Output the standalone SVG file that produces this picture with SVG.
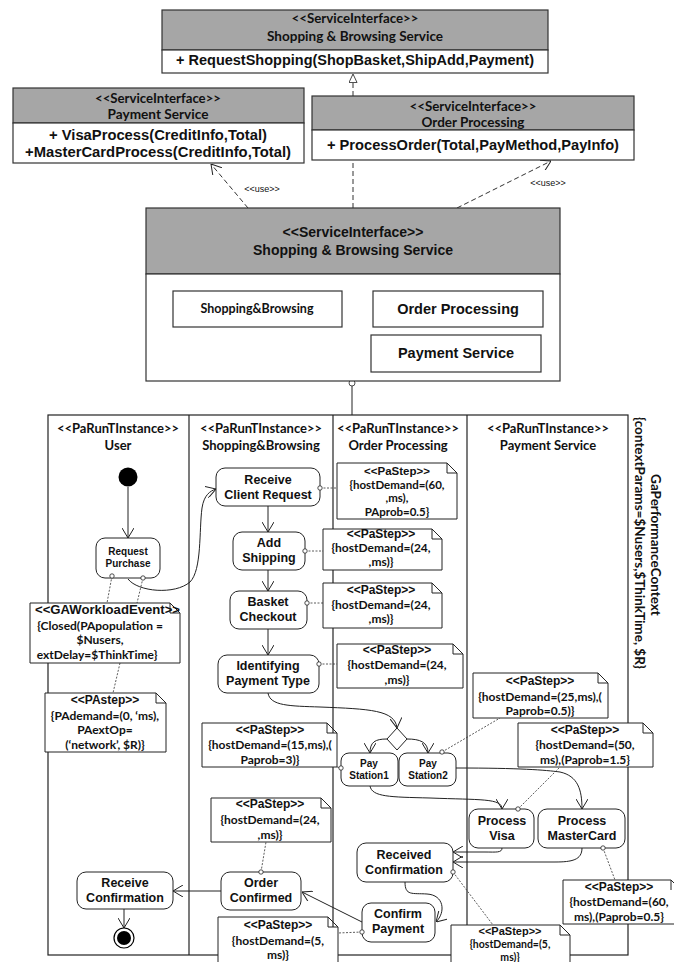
<svg xmlns="http://www.w3.org/2000/svg" width="674" height="962" viewBox="0 0 674 962">
<defs>
<style>
text{fill:#111}
.a{font-family:"Liberation Sans",Arial,sans-serif;font-weight:bold}
.c{font-family:Lato,"Open Sans",sans-serif;font-weight:bold}
.r{font-family:"Liberation Sans",Arial,sans-serif}
.m{text-anchor:middle}
.hdr{fill:#a6a6a6;stroke:#333;stroke-width:1.2}
.box{fill:#fff;stroke:#333;stroke-width:1.2}
.act{fill:#fff;stroke:#222;stroke-width:1}
.note{fill:#fff;stroke:#222;stroke-width:1}
.lane{fill:none;stroke:#222;stroke-width:1.2}
.flow{fill:none;stroke:#222;stroke-width:1;marker-end:url(#open)}
.dep{fill:none;stroke:#333;stroke-width:1;stroke-dasharray:5 3}
.dot{fill:none;stroke:#333;stroke-width:0.8;stroke-dasharray:2 1.5}
.pin{fill:#fff;stroke:#222;stroke-width:0.8}
</style>
<marker id="open" viewBox="0 0 10 12" refX="10" refY="6" markerWidth="10" markerHeight="12" markerUnits="userSpaceOnUse" orient="auto">
<path d="M0,0 L10,6 L0,12" fill="none" stroke="#222" stroke-width="1"/>
</marker>
<marker id="tri" viewBox="0 0 10 10" refX="10" refY="5" markerWidth="9" markerHeight="9" markerUnits="userSpaceOnUse" orient="auto">
<path d="M0.5,0.5 L10,5 L0.5,9.5 Z" fill="#fff" stroke="#333" stroke-width="1"/>
</marker>
</defs>
<rect width="674" height="962" fill="#fff"/>

<!-- swimlane frame -->
<g id="lanes">
<rect class="lane" x="48" y="415" width="580" height="540"/>
<line class="lane" x1="189" y1="415" x2="189" y2="955"/>
<line class="lane" x1="333" y1="415" x2="333" y2="955"/>
<line class="lane" x1="467" y1="415" x2="467" y2="955"/>
<text class="c m" x="118" y="433" font-size="13">&lt;&lt;PaRunTInstance&gt;&gt;</text>
<text class="c m" x="118" y="450" font-size="13">User</text>
<text class="c m" x="261" y="433" font-size="13">&lt;&lt;PaRunTInstance&gt;&gt;</text>
<text class="c m" x="261" y="450" font-size="13">Shopping&amp;Browsing</text>
<text class="c m" x="398" y="433" font-size="13">&lt;&lt;PaRunTInstance&gt;&gt;</text>
<text class="c m" x="398" y="450" font-size="13">Order Processing</text>
<text class="c m" x="548" y="433" font-size="13">&lt;&lt;PaRunTInstance&gt;&gt;</text>
<text class="c m" x="548" y="450" font-size="13">Payment Service</text>
<text class="c m" transform="translate(651,545) rotate(90)" font-size="13.5">GaPerformanceContext</text>
<text class="c m" transform="translate(635,543) rotate(90)" font-size="13.5">{contextParams=$Nusers,$ThinkTime, $R}</text>
</g>

<!-- connectors -->
<g id="connectors">
<path class="dep" d="M353,208 L353,74" marker-end="url(#tri)"/>
<path class="dep" d="M248,208 L211,164" marker-end="url(#open)"/>
<path class="dep" d="M457,208 L551,161" marker-end="url(#open)"/>
<text class="r m" x="262" y="192" font-size="9">&lt;&lt;use&gt;&gt;</text>
<text class="r m" x="548" y="186" font-size="9">&lt;&lt;use&gt;&gt;</text>
<line x1="352" y1="386" x2="352" y2="415" stroke="#222" stroke-width="1"/>
<circle class="pin" cx="352" cy="383" r="3"/>

<path class="flow" d="M128,487 L128,538"/>
<path class="flow" d="M128,579 C138,592 175,595 190,582 C202,570 199,530 202,508 C204,495 210,491 216,489"/>
<path class="flow" d="M268,506 L268,532"/>
<path class="flow" d="M268,570 L268,591"/>
<path class="flow" d="M268,629 L268,655"/>
<path class="flow" d="M268,693 C270,706 290,706 320,707 C370,709 395,710 397,728"/>
<path class="flow" d="M387,739 C375,739 370,742 370,753"/>
<path class="flow" d="M407,739 C420,739 428,742 428,753"/>
<path class="flow" d="M370,786 C372,797 390,797 430,798 C480,800 502,798 502,809"/>
<path class="flow" d="M456,768 C520,768 545,770 560,772 C578,776 582,790 582,809"/>
<path class="flow" d="M502,848 C502,853 496,852 485,852 L453,852"/>
<path class="flow" d="M582,848 C582,860 572,862 555,862 L453,862"/>
<path class="flow" d="M405,882 C405,896 412,893 427,894 C444,895 446,912 436,922"/>
<path class="flow" d="M362,922 L302,892"/>
<path class="flow" d="M221,891 L173,891"/>
<path class="flow" d="M124,909 L124,928"/>

<path class="dot" d="M320,488 L337,488"/>
<path class="dot" d="M305,551 L323,551"/>
<path class="dot" d="M307,603 L323,603"/>
<path class="dot" d="M319,664 L337,664"/>
<path class="dot" d="M337,767 L341,768"/>
<path class="dot" d="M442,752 L500,718"/>
<path class="dot" d="M518,809 L560,767"/>
<path class="dot" d="M603,848 L615,880"/>
<path class="dot" d="M453,872 L493,925"/>
<path class="dot" d="M261,872 L266,842"/>
<path class="dot" d="M362,932 L338,933"/>
<path class="dot" d="M112,576 L107,603"/>
<path class="dot" d="M143,578 L137,603"/>
<path class="dot" d="M120,663 L113,693"/>
</g>

<!-- service interfaces -->
<g id="si-shopping">
<rect class="hdr" x="162" y="10" width="386" height="40"/>
<rect class="box" x="162" y="50" width="386" height="23"/>
<text class="c m" x="355" y="22.5" font-size="12.5" textLength="127" lengthAdjust="spacingAndGlyphs">&lt;&lt;ServiceInterface&gt;&gt;</text>
<text class="c m" x="355" y="40.5" font-size="13" textLength="176" lengthAdjust="spacingAndGlyphs">Shopping &amp; Browsing Service</text>
<text class="a m" x="355" y="65" font-size="14" textLength="358" lengthAdjust="spacingAndGlyphs">+ RequestShopping(ShopBasket,ShipAdd,Payment)</text>
</g>
<g id="si-payment">
<rect class="hdr" x="13" y="88" width="291" height="35"/>
<rect class="box" x="13" y="123" width="291" height="40"/>
<text class="c m" x="158" y="102.5" font-size="12.5" textLength="126" lengthAdjust="spacingAndGlyphs">&lt;&lt;ServiceInterface&gt;&gt;</text>
<text class="c m" x="158" y="118.5" font-size="13" textLength="101" lengthAdjust="spacingAndGlyphs">Payment Service</text>
<text class="a m" x="158" y="140" font-size="14" textLength="218" lengthAdjust="spacingAndGlyphs">+ VisaProcess(CreditInfo,Total)</text>
<text class="a m" x="158" y="157" font-size="14" textLength="266" lengthAdjust="spacingAndGlyphs">+MasterCardProcess(CreditInfo,Total)</text>
</g>
<g id="si-order">
<rect class="hdr" x="312" y="96" width="322" height="34"/>
<rect class="box" x="312" y="130" width="322" height="30"/>
<text class="c m" x="473" y="110.5" font-size="12.5" textLength="127" lengthAdjust="spacingAndGlyphs">&lt;&lt;ServiceInterface&gt;&gt;</text>
<text class="c m" x="473" y="126.5" font-size="13" textLength="103" lengthAdjust="spacingAndGlyphs">Order Processing</text>
<text class="a m" x="473" y="150" font-size="14" textLength="292" lengthAdjust="spacingAndGlyphs">+ ProcessOrder(Total,PayMethod,PayInfo)</text>
</g>
<g id="si-main">
<rect class="hdr" x="146" y="208" width="414" height="66"/>
<rect class="box" x="146" y="274" width="414" height="107"/>
<text class="a m" x="353" y="237" font-size="14">&lt;&lt;ServiceInterface&gt;&gt;</text>
<text class="a m" x="353" y="255" font-size="14">Shopping &amp; Browsing Service</text>
<rect class="box" x="173" y="291" width="169" height="36"/>
<text class="c m" x="257" y="313" font-size="12.5">Shopping&amp;Browsing</text>
<rect class="box" x="373" y="291" width="170" height="36"/>
<text class="a m" x="458" y="314" font-size="14.5">Order Processing</text>
<rect class="box" x="371" y="335" width="170" height="37"/>
<text class="a m" x="456" y="358" font-size="14.5">Payment Service</text>
</g>

<!-- activity nodes -->
<g id="initial"><circle cx="128" cy="477" r="9.5" fill="#000"/></g>
<g id="request-purchase">
<rect class="act" x="96" y="538" width="64" height="40" rx="9"/>
<text class="a m" x="128" y="554.5" font-size="10">Request</text>
<text class="a m" x="128" y="567" font-size="10">Purchase</text>
</g>
<g id="receive-client-request">
<rect class="act" x="216" y="468" width="104" height="38" rx="9"/>
<text class="a m" x="268" y="484" font-size="12.5">Receive</text>
<text class="a m" x="268" y="499" font-size="12.5">Client Request</text>
</g>
<g id="add-shipping">
<rect class="act" x="233" y="532" width="72" height="38" rx="9"/>
<text class="a m" x="269" y="547" font-size="12.5">Add</text>
<text class="a m" x="269" y="562" font-size="12.5">Shipping</text>
</g>
<g id="basket-checkout">
<rect class="act" x="230" y="591" width="77" height="38" rx="9"/>
<text class="a m" x="268" y="606" font-size="12.5">Basket</text>
<text class="a m" x="268" y="621" font-size="12.5">Checkout</text>
</g>
<g id="identifying-payment">
<rect class="act" x="218" y="655" width="101" height="38" rx="9"/>
<text class="a m" x="268" y="670" font-size="12.5">Identifying</text>
<text class="a m" x="268" y="685" font-size="12.5">Payment Type</text>
</g>
<g id="decision"><path class="act" d="M397,728 L407,739 L397,750 L387,739 Z"/></g>
<g id="pay-station1">
<rect class="act" x="341" y="753" width="57" height="33" rx="8"/>
<text class="a m" x="369" y="767" font-size="10">Pay</text>
<text class="a m" x="369" y="779" font-size="10">Station1</text>
</g>
<g id="pay-station2">
<rect class="act" x="399" y="753" width="57" height="33" rx="8"/>
<text class="a m" x="428" y="767" font-size="10">Pay</text>
<text class="a m" x="428" y="779" font-size="10">Station2</text>
</g>
<g id="process-visa">
<rect class="act" x="469" y="809" width="65" height="39" rx="9"/>
<text class="a m" x="502" y="825" font-size="12.5">Process</text>
<text class="a m" x="502" y="840" font-size="12.5">Visa</text>
</g>
<g id="process-mastercard">
<rect class="act" x="538" y="809" width="87" height="39" rx="9"/>
<text class="a m" x="582" y="825" font-size="12.5">Process</text>
<text class="a m" x="582" y="840" font-size="12.5">MasterCard</text>
</g>
<g id="received-confirmation">
<rect class="act" x="357" y="843" width="96" height="39" rx="9"/>
<text class="a m" x="404" y="859" font-size="12.5">Received</text>
<text class="a m" x="404" y="874" font-size="12.5">Confirmation</text>
</g>
<g id="confirm-payment">
<rect class="act" x="362" y="903" width="73" height="39" rx="9"/>
<text class="a m" x="398" y="918" font-size="12.5">Confirm</text>
<text class="a m" x="398" y="933" font-size="12.5">Payment</text>
</g>
<g id="order-confirmed">
<rect class="act" x="221" y="872" width="80" height="38" rx="9"/>
<text class="a m" x="261" y="887" font-size="12.5">Order</text>
<text class="a m" x="261" y="902" font-size="12.5">Confirmed</text>
</g>
<g id="receive-confirmation">
<rect class="act" x="77" y="872" width="96" height="37" rx="9"/>
<text class="a m" x="125" y="887" font-size="12.5">Receive</text>
<text class="a m" x="125" y="902" font-size="12.5">Confirmation</text>
</g>
<g id="final">
<circle cx="124" cy="938" r="10" fill="#fff" stroke="#000" stroke-width="1.2"/>
<circle cx="124" cy="938" r="7" fill="#000"/>
</g>

<!-- pins on action borders -->
<g id="pins">
<circle class="pin" cx="320" cy="488" r="2.2"/>
<circle class="pin" cx="305" cy="551" r="2.2"/>
<circle class="pin" cx="307" cy="603" r="2.2"/>
<circle class="pin" cx="319" cy="664" r="2.2"/>
<circle class="pin" cx="341" cy="768" r="2.2"/>
<circle class="pin" cx="442" cy="752" r="2.2"/>
<circle class="pin" cx="518" cy="809" r="2.2"/>
<circle class="pin" cx="603" cy="848" r="2.2"/>
<circle class="pin" cx="453" cy="872" r="2.2"/>
<circle class="pin" cx="261" cy="872" r="2.2"/>
<circle class="pin" cx="362" cy="932" r="2.2"/>
<circle class="pin" cx="112" cy="576" r="2.2"/>
<circle class="pin" cx="143" cy="578" r="2.2"/>
</g>

<!-- annotations -->
<g id="note-ga">
<path class="note" d="M30,603 H170 L180,613 V663 H30 Z M170,603 V613 H180"/>
<text class="a" x="35" y="614" font-size="12" textLength="145" lengthAdjust="spacingAndGlyphs">&lt;&lt;GAWorkloadEvent&gt;&gt;</text>
<text class="c m" x="100" y="630" font-size="12">{Closed(PApopulation =</text>
<text class="c m" x="100" y="644" font-size="12">$Nusers,</text>
<text class="c m" x="97" y="659" font-size="12">extDelay=$ThinkTime}</text>
</g>
<g id="note-pastep-user">
<path class="note" d="M45,693 H156 L166,703 V752 H45 Z M156,693 V703 H166"/>
<text class="a m" x="105" y="704" font-size="12">&lt;&lt;PAstep&gt;&gt;</text>
<text class="c m" x="105" y="720" font-size="12">{PAdemand=(0, ‘ms),</text>
<text class="c m" x="105" y="734" font-size="12">PAextOp=</text>
<text class="c m" x="105" y="749" font-size="12">(‘network’, $R)}</text>
</g>
<g id="note-receive">
<path class="note" d="M337,463 H447 L457,473 V519 H337 Z M447,463 V473 H457"/>
<text class="a m" x="397" y="474.5" font-size="11.5">&lt;&lt;PaStep&gt;&gt;</text>
<text class="c m" x="397" y="488.5" font-size="11.5">{hostDemand=(60,</text>
<text class="c m" x="397" y="502" font-size="11.5">,ms),</text>
<text class="c m" x="397" y="515.5" font-size="11.5">PAprob=0.5}</text>
</g>
<g id="note-shipping">
<path class="note" d="M323,529 H432 L442,539 V570 H323 Z M432,529 V539 H442"/>
<text class="a m" x="381" y="538" font-size="12">&lt;&lt;PaStep&gt;&gt;</text>
<text class="c m" x="381" y="552" font-size="12">{hostDemand=(24,</text>
<text class="c m" x="381" y="566" font-size="12">,ms)}</text>
</g>
<g id="note-checkout">
<path class="note" d="M323,583 H432 L442,593 V628 H323 Z M432,583 V593 H442"/>
<text class="a m" x="381" y="594" font-size="12">&lt;&lt;PaStep&gt;&gt;</text>
<text class="c m" x="381" y="609" font-size="12">{hostDemand=(24,</text>
<text class="c m" x="381" y="623" font-size="12">,ms)}</text>
</g>
<g id="note-identify">
<path class="note" d="M337,644 H453 L463,654 V688 H337 Z M453,644 V654 H463"/>
<text class="a m" x="397" y="654" font-size="12">&lt;&lt;PaStep&gt;&gt;</text>
<text class="c m" x="397" y="669" font-size="12">{hostDemand=(24,</text>
<text class="c m" x="397" y="684" font-size="12">,ms)}</text>
</g>
<g id="note-station1">
<path class="note" d="M202,723 H327 L337,733 V767 H202 Z M327,723 V733 H337"/>
<text class="a m" x="270" y="734" font-size="12">&lt;&lt;PaStep&gt;&gt;</text>
<text class="c m" x="270" y="749" font-size="12">{hostDemand=(15,ms),(</text>
<text class="c m" x="270" y="764" font-size="12">Paprob=3)}</text>
</g>
<g id="note-station2">
<path class="note" d="M473,673 H598 L608,683 V718 H473 Z M598,673 V683 H608"/>
<text class="a m" x="540" y="685" font-size="12">&lt;&lt;PaStep&gt;&gt;</text>
<text class="c m" x="540" y="701" font-size="12">{hostDemand=(25,ms),(</text>
<text class="c m" x="540" y="715" font-size="12">Paprob=0.5)}</text>
</g>
<g id="note-visa">
<path class="note" d="M518,723 H643 L653,733 V767 H518 Z M643,723 V733 H653"/>
<text class="a m" x="585" y="734" font-size="12">&lt;&lt;PaStep&gt;&gt;</text>
<text class="c m" x="585" y="749" font-size="12">{hostDemand=(50,</text>
<text class="c m" x="585" y="764" font-size="12">ms),(Paprob=1.5}</text>
</g>
<g id="note-ordercf">
<path class="note" d="M211,798 H321 L331,808 V842 H211 Z M321,798 V808 H331"/>
<text class="a m" x="270" y="808" font-size="12">&lt;&lt;PaStep&gt;&gt;</text>
<text class="c m" x="270" y="824" font-size="12">{hostDemand=(24,</text>
<text class="c m" x="270" y="839" font-size="12">,ms)}</text>
</g>
<g id="note-mastercard">
<path class="note" d="M563,880 H671 L681,890 V924 H563 Z M671,880 V890"/>
<text class="a m" x="619" y="891" font-size="12">&lt;&lt;PaStep&gt;&gt;</text>
<text class="c m" x="619" y="906" font-size="12">{hostDemand=(60,</text>
<text class="c m" x="619" y="921" font-size="12">ms),(Paprob=0.5}</text>
</g>
<g id="note-confirm">
<path class="note" d="M218,917 H328 L338,927 V975 H218 Z M328,917 V927 H338"/>
<text class="a m" x="278" y="929" font-size="12">&lt;&lt;PaStep&gt;&gt;</text>
<text class="c m" x="278" y="945" font-size="12">{hostDemand=(5,</text>
<text class="c m" x="278" y="959" font-size="12">ms)}</text>
</g>
<g id="note-received">
<path class="note" d="M451,925 H560 L570,935 V975 H451 Z M560,925 V935 H570"/>
<text class="a m" x="510" y="935" font-size="11">&lt;&lt;PaStep&gt;&gt;</text>
<text class="c m" x="510" y="948" font-size="10.5">{hostDemand=(5,</text>
<text class="c m" x="510" y="960.5" font-size="10.5">ms)}</text>
</g>
</svg>
